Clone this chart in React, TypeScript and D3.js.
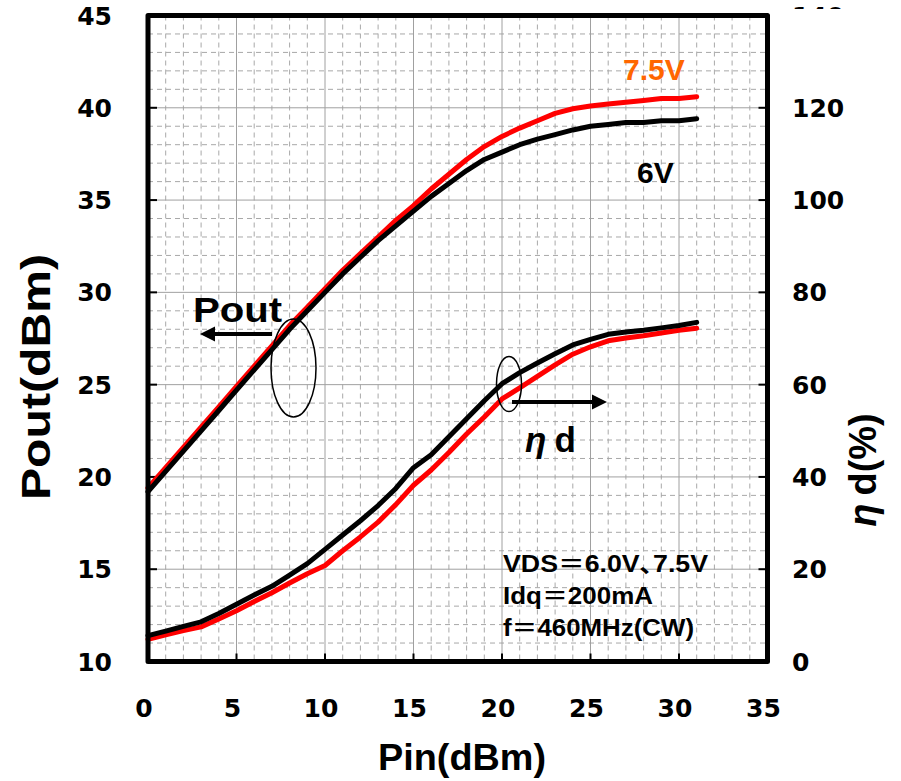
import React from "react";
import * as d3 from "d3";

// ---- data ----
const pinLevels = [0, 1, 2, 3, 4, 5, 6, 7, 8, 9, 10, 11, 12, 13, 14, 15, 16, 17, 18, 19, 20, 21, 22, 23, 24, 25, 26, 27, 28, 29, 30, 31];
const pout75V = [19.4, 20.5, 21.6, 22.7, 23.8, 24.9, 26.0, 27.1, 28.2, 29.2, 30.2, 31.2, 32.1, 33.0, 33.9, 34.7, 35.6, 36.4, 37.2, 37.9, 38.45, 38.9, 39.3, 39.7, 39.95, 40.1, 40.2, 40.3, 40.4, 40.5, 40.5, 40.6];
const pout6V = [19.2, 20.3, 21.4, 22.5, 23.6, 24.7, 25.8, 26.9, 28.0, 29.0, 30.0, 31.0, 31.9, 32.8, 33.6, 34.4, 35.2, 35.9, 36.6, 37.2, 37.6, 38.0, 38.3, 38.55, 38.8, 39.0, 39.1, 39.2, 39.2, 39.3, 39.3, 39.4];
const eff75V = [4.8, 5.8, 6.7, 7.5, 9.2, 11.0, 13.0, 14.9, 17.0, 19.0, 20.8, 24.0, 27.0, 30.2, 34.0, 38.2, 41.5, 45.3, 49.3, 53.0, 56.9, 59.3, 61.8, 64.3, 66.6, 68.2, 69.5, 70.1, 70.6, 71.2, 71.8, 72.2];
const eff6V = [5.6, 6.6, 7.6, 8.6, 10.4, 12.4, 14.4, 16.3, 18.7, 21.2, 24.3, 27.4, 30.5, 33.8, 37.5, 42.0, 44.8, 48.7, 52.6, 56.5, 60.2, 62.6, 64.7, 66.7, 68.6, 69.8, 70.9, 71.4, 71.8, 72.3, 72.8, 73.5];

const xTicks = [0, 5, 10, 15, 20, 25, 30, 35];
const yLeftTicks = [10, 15, 20, 25, 30, 35, 40, 45];
const yRightTicks = [0, 20, 40, 60, 80, 100, 120, 140];
const conditionLines = ["VDS＝6.0V､7.5V", "Idq＝200mA", "f＝460MHz(CW)"];
const conditionWidths = [205, 150, 191];

const W = 901;
const H = 781;
const x = d3.scaleLinear().domain([0, 35]).range([148, 767.5]);
const yL = d3.scaleLinear().domain([10, 45]).range([661.5, 15.5]);
const yR = d3.scaleLinear().domain([0, 140]).range([661.5, 15.5]);

const tickFont = "'DejaVu Sans', sans-serif";
const labelFont = "'Liberation Sans', Arial, 'Noto Sans CJK JP', sans-serif";

export default function App() {
  const poutLine = d3
    .line<number>()
    .x((_, i) => x(pinLevels[i]))
    .y((d) => yL(d))
    .curve(d3.curveLinear);
  const effLine = d3
    .line<number>()
    .x((_, i) => x(pinLevels[i]))
    .y((d) => yR(d))
    .curve(d3.curveLinear);

  const minorX = d3.range(0, 36, 1).filter((v) => v % 5 !== 0);
  const minorY = d3.range(10, 46, 1).filter((v) => v % 5 !== 0);
  const majorX = d3.range(5, 35, 5);
  const majorY = d3.range(15, 45, 5);

  const [x0, x1] = x.range();
  const [yb, yt] = yL.range();

  return (
    <div style={{ position: "absolute", left: 0, top: 0 }}>
      <svg width={W} height={H} style={{ display: "block", background: "#fff" }}>
        <defs>
          <clipPath id="topClip">
            <rect x={0} y={0} width={W} height={9} />
          </clipPath>
        </defs>
        {/* minor dashed grid */}
        <g stroke="#a8a8a8" strokeWidth={1} strokeDasharray="5,4">
          {minorX.map((v) => (
            <line key={"mx" + v} x1={x(v)} x2={x(v)} y1={yt} y2={yb} />
          ))}
          {minorY.map((v) => (
            <line key={"my" + v} x1={x0} x2={x1} y1={yL(v)} y2={yL(v)} />
          ))}
        </g>
        {/* major solid grid */}
        <g stroke="#a0a0a0" strokeWidth={1}>
          {majorX.map((v) => (
            <line key={"Mx" + v} x1={x(v)} x2={x(v)} y1={yt} y2={yb} />
          ))}
          {majorY.map((v) => (
            <line key={"My" + v} x1={x0} x2={x1} y1={yL(v)} y2={yL(v)} />
          ))}
        </g>
        {/* ticks */}
        <g stroke="#000" strokeWidth={2}>
          {majorX.map((v) => (
            <line key={"tx" + v} x1={x(v)} x2={x(v)} y1={yb} y2={yb - 8} />
          ))}
          {majorY.map((v) => (
            <line key={"tl" + v} x1={x0} x2={x0 + 9} y1={yL(v)} y2={yL(v)} />
          ))}
          {majorY.map((v) => (
            <line key={"tr" + v} x1={x1} x2={x1 - 9} y1={yL(v)} y2={yL(v)} />
          ))}
        </g>

        {/* data lines */}
        <g fill="none" strokeWidth={5} strokeLinejoin="round" strokeLinecap="round">
          <path d={poutLine(pout75V) || ""} stroke="#ff0000" />
          <path d={poutLine(pout6V) || ""} stroke="#000" />
          <path d={effLine(eff75V) || ""} stroke="#ff0000" />
          <path d={effLine(eff6V) || ""} stroke="#000" />
        </g>

        {/* frame */}
        <rect
          x={x0}
          y={yt}
          width={x1 - x0}
          height={yb - yt}
          fill="none"
          stroke="#000"
          strokeWidth={5}
          strokeLinejoin="round"
        />

        {/* tick labels */}
        <g fontFamily={tickFont} fontWeight="bold" fontSize={25} fill="#000">
          {xTicks.map((v) => (
            <text key={"xl" + v} x={x(v) - 4} y={717} textAnchor="middle">
              {v}
            </text>
          ))}
          {yLeftTicks.map((v) => (
            <text key={"yl" + v} x={112} y={yL(v)} dy="0.36em" textAnchor="end">
              {v}
            </text>
          ))}
          {yRightTicks
            .filter((v) => v < 140)
            .map((v) => (
              <text key={"yr" + v} x={792} y={yR(v)} dy="0.36em" textAnchor="start">
                {v}
              </text>
            ))}
          <g clipPath="url(#topClip)">
            <text x={792} y={yR(140)} dy="0.36em" textAnchor="start">
              {140}
            </text>
          </g>
        </g>

        {/* axis titles */}
        <text x={462} y={770} textAnchor="middle" fontFamily={labelFont} fontWeight="bold" fontSize={37} textLength={168} lengthAdjust="spacingAndGlyphs">
          Pin(dBm)
        </text>
        <text
          transform="translate(50,377) rotate(-90)"
          textAnchor="middle"
          fontFamily={labelFont}
          fontWeight="bold"
          fontSize={40}
          textLength={246}
          lengthAdjust="spacingAndGlyphs"
        >
          Pout(dBm)
        </text>
        <text
          transform="translate(876,470) rotate(-90)"
          textAnchor="middle"
          fontFamily={labelFont}
          fontWeight="bold"
          fontSize={38}
        >
          <tspan fontStyle="italic">η</tspan>
          <tspan dx={8}>d(%)</tspan>
        </text>

        {/* series labels */}
        <text x={623} y={80} fontFamily={labelFont} fontWeight="bold" fontSize={30} fill="#ff6600">
          7.5V
        </text>
        <text x={637} y={183} fontFamily={labelFont} fontWeight="bold" fontSize={30} fill="#000">
          6V
        </text>

        {/* Pout annotation */}
        <text x={193} y={322} fontFamily={labelFont} fontWeight="bold" fontSize={35} textLength={89} lengthAdjust="spacingAndGlyphs">
          Pout
        </text>
        <line x1={272} x2={212} y1={334} y2={334} stroke="#000" strokeWidth={4} />
        <polygon points="200,334 215,326.5 215,341.5" fill="#000" />
        <ellipse cx={293.5} cy={368} rx={22.5} ry={49} fill="none" stroke="#000" strokeWidth={1.5} />

        {/* eta d annotation */}
        <ellipse cx={509} cy={384} rx={12.5} ry={27.5} fill="none" stroke="#000" strokeWidth={1.5} />
        <line x1={512} x2={595} y1={402} y2={402} stroke="#000" strokeWidth={4} />
        <polygon points="607,402 592,394.5 592,409.5" fill="#000" />
        <text x={525} y={452} fontFamily={labelFont} fontWeight="bold" fontSize={35}>
          <tspan fontStyle="italic">η</tspan>
          <tspan dx={8}>d</tspan>
        </text>

        {/* conditions */}
        <g fontFamily={labelFont} fontWeight="bold" fontSize={23} fill="#000">
          {conditionLines.map((t, i) => (
            <text key={t} x={503} y={572 + i * 32} textLength={conditionWidths[i]} lengthAdjust="spacingAndGlyphs">
              {t}
            </text>
          ))}
        </g>
      </svg>
    </div>
  );
}
